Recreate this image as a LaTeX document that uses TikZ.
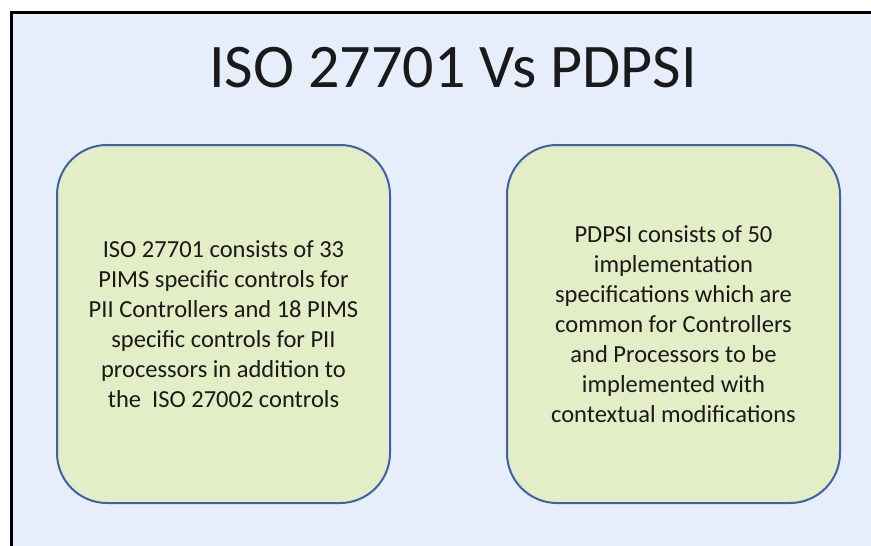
\documentclass[tikz,border=0pt]{standalone}
\usepackage{fontspec}
\setmainfont{Carlito}
\usepackage{xcolor}
\usepackage{tikz}
\usetikzlibrary{positioning}
\definecolor{slideblue}{HTML}{E6EEFB}
\definecolor{boxgreen}{HTML}{E3EDC6}
\definecolor{boxedge}{HTML}{3E62A9}
\definecolor{textgray}{HTML}{1A1A1A}
\tikzset{
  slidetitle/.style={
    text=textgray,
    font=\fontsize{62}{70}\selectfont,
    inner sep=0pt
  },
  specbox/.style={
    draw=boxedge,
    fill=boxgreen,
    line width=2pt,
    rounded corners=50pt,
    align=center,
    text=textgray,
    minimum width=333pt,
    minimum height=358pt,
    inner sep=0pt,
    font=\fontsize{24.5}{30}\selectfont
  }
}

\begin{document}
\begin{tikzpicture}[x=1pt,y=-1pt]
    \useasboundingbox (0,0) rectangle (871,546);
    \clip (0,0) rectangle (871,546);
    \fill[white] (0,0) rectangle (871,546);
    \draw[line width=3pt, fill=slideblue] (11.5,12.5) rectangle (890,570);

    \node[slidetitle] (title) at (453,68) {ISO 27701 Vs PDPSI};

    \node[specbox] (iso) at (223.5,324) {
        ISO 27701 consists of 33\\
        PIMS specific controls for\\
        PII Controllers and 18 PIMS\\
        specific controls for PII\\
        processors in addition to\\
        the\ \ ISO 27002 controls
    };
    \node[specbox, right=115pt of iso] (pdpsi) {
        PDPSI consists of 50\\
        implementation\\
        specifications which are\\
        common for Controllers\\
        and Processors to be\\
        implemented with\\
        contextual modifications
    };
\end{tikzpicture}
\end{document}
